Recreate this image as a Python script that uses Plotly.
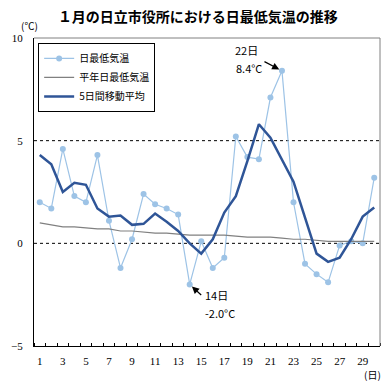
import plotly.graph_objects as go

days = list(range(1, 31))
daily_min = [2.0, 1.7, 4.6, 2.3, 2.0, 4.3, 1.1, -1.2, 0.2, 2.4,
             1.9, 1.7, 1.4, -2.0, 0.1, -1.2, -0.7, 5.2, 4.2, 4.1,
             7.1, 8.4, 2.0, -1.0, -1.5, -1.9, -0.1, 0.1, 0.0, 3.2]
normal_min = [1.0, 0.9, 0.8, 0.8, 0.75, 0.7, 0.7, 0.6, 0.6, 0.55,
              0.5, 0.5, 0.45, 0.4, 0.4, 0.4, 0.4, 0.35, 0.3, 0.3,
              0.3, 0.25, 0.2, 0.2, 0.15, 0.1, 0.1, 0.1, 0.1, 0.1]
moving_avg = [4.3, 3.85, 2.5, 2.95, 2.85, 1.7, 1.3, 1.35, 0.9, 0.95,
              1.45, 1.05, 0.6, 0.0, -0.5, 0.2, 1.5, 2.3, 4.0, 5.8,
              5.15, 4.1, 3.0, 1.25, -0.5, -0.9, -0.7, 0.2, 1.3, 1.75]
x_tick_vals = list(range(1, 30, 2))
y_tick_vals = [-5, 0, 5, 10]

JP = "Noto Sans CJK JP"
SERIF = "Liberation Serif"

fig = go.Figure()
fig.add_trace(go.Scatter(x=days, y=daily_min, name="日最低気温", mode="lines+markers",
                         line=dict(color="#9DC3E6", width=1.2),
                         marker=dict(color="#9DC3E6", size=6)))
fig.add_trace(go.Scatter(x=days, y=normal_min, name="平年日最低気温", mode="lines",
                         line=dict(color="#808080", width=1.2)))
fig.add_trace(go.Scatter(x=days, y=moving_avg, name="5日間移動平均", mode="lines",
                         line=dict(color="#2F5597", width=2.5)))

# frame: gray top/right
fig.add_shape(type="line", xref="paper", yref="paper", x0=0, x1=1, y0=1, y1=1,
              line=dict(color="#808080", width=1))
fig.add_shape(type="line", xref="paper", yref="paper", x0=1, x1=1, y0=0, y1=1,
              line=dict(color="#808080", width=1))
# dashed reference lines
for yv in [0, 5]:
    fig.add_shape(type="line", xref="paper", yref="y", x0=0, x1=1, y0=yv, y1=yv,
                  line=dict(color="black", width=1, dash="dot"), layer="below")

ann_font = dict(family=JP, size=11, color="black")
fig.add_annotation(x=18.95, y=9.43, text="22日", showarrow=False, font=ann_font)
fig.add_annotation(x=19.1, y=8.55, text="8.4°C", showarrow=False, font=ann_font)
fig.add_annotation(x=22, y=8.4, ax=-19, ay=-10, text="", showarrow=True,
                   arrowhead=2, arrowsize=1.2, arrowwidth=1.2, arrowcolor="black", standoff=3)
fig.add_annotation(x=16.35, y=-2.52, text="14日", showarrow=False, font=ann_font)
fig.add_annotation(x=16.6, y=-3.4, text="-2.0°C", showarrow=False, font=ann_font)
fig.add_annotation(x=14, y=-2.0, ax=13, ay=12, text="", showarrow=True,
                   arrowhead=2, arrowsize=1.2, arrowwidth=1.2, arrowcolor="black", standoff=3)

# unit labels
fig.add_annotation(xref="paper", yref="paper", x=-0.012, y=1.04, xanchor="center", yanchor="middle",
                   text="(℃)", showarrow=False, font=dict(family=JP, size=10, color="black"))
fig.add_annotation(xref="paper", yref="paper", x=0.977, y=-0.094, xanchor="center", yanchor="middle",
                   text="(日)", showarrow=False, font=dict(family=JP, size=10, color="black"))

fig.update_layout(
    width=388, height=390,
    margin=dict(l=34, r=8, t=38, b=44),
    paper_bgcolor="white", plot_bgcolor="white",
    title=dict(text="<b>１月の日立市役所における日最低気温の推移</b>",
               x=0.51, xanchor="center", y=0.955, yanchor="middle",
               font=dict(family=JP, size=14, color="black")),
    legend=dict(x=0.012, y=0.984, xanchor="left", yanchor="top",
                bordercolor="black", borderwidth=1, bgcolor="white",
                font=dict(family=JP, size=10, color="black"),
                tracegroupgap=0, itemwidth=30),
    showlegend=True,
)
fig.update_xaxes(range=[0.5, 30.5], tickmode="array", tickvals=x_tick_vals,
                 ticktext=[str(v) for v in x_tick_vals], ticks="",
                 showgrid=False, zeroline=False, showline=True, linecolor="black", linewidth=1,
                 tickfont=dict(family=SERIF, size=11, color="black"),
                 ticklabelstandoff=5,
                 minor=dict(ticks="inside", tickmode="array",
                            tickvals=[d + 0.5 for d in range(0, 31)],
                            ticklen=3, tickcolor="black", tickwidth=1))
fig.update_yaxes(range=[-5, 10], tickmode="array", tickvals=y_tick_vals,
                 ticks="", showgrid=False, zeroline=False, showline=True,
                 linecolor="black", linewidth=1,
                 tickfont=dict(family=SERIF, size=11, color="black"),
                 ticklabelstandoff=8)

fig.write_html("out.html", config={"displayModeBar": False},
               post_script="document.body.style.margin='0';document.body.style.overflow='hidden';")
